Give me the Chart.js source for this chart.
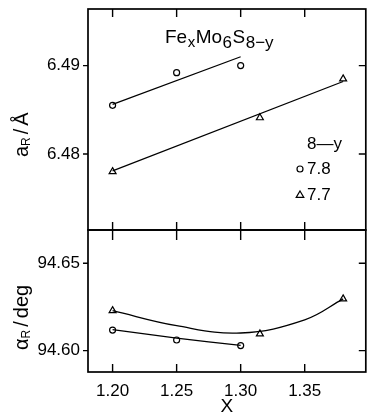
<!DOCTYPE html>
<html><head><meta charset="utf-8">
<script src="https://cdn.jsdelivr.net/npm/chart.js@4"></script>
<style>
html,body{margin:0;padding:0;background:#fff;width:371px;height:416px;overflow:hidden}
#wrap{position:relative;width:371px;height:416px}
canvas{position:absolute;left:0;top:0}
</style></head><body>
<div id="wrap"><canvas id="cTop" width="371" height="416"></canvas><canvas id="cBot" width="371" height="416"></canvas></div>
<script>
// ---- data ----
const xTicks = [1.20, 1.25, 1.30, 1.35];
const aTicks = [6.48, 6.49];
const alphaTicks = [94.60, 94.65];

const xCircle = [1.20, 1.25, 1.30];
const xTriangle = [1.20, 1.315, 1.38];

const aCircle = [6.4855, 6.4892, 6.4900];
const aTriangle = [6.4780, 6.4841, 6.4885];
const alphaCircle = [94.6118, 94.6061, 94.6029];
const alphaTriangle = [94.6229, 94.6096, 94.6296];

// fitted curves
const aFitCircleX = [1.20, 1.30];
const aFitCircle = [6.4856, 6.4910];
const aFitTriangleX = [1.20, 1.38];
const aFitTriangle = [6.4781, 6.4882];
const alphaFitCircleX = [1.20, 1.25, 1.30];
const alphaFitCircle = [94.6120, 94.6072, 94.6030];
const alphaFitTriangleX = [1.20, 1.25, 1.30, 1.35, 1.38];
const alphaFitTriangle = [94.6229, 94.6143, 94.6101, 94.6176, 94.6296];

const legendTitle = '8—y';
const legendLabels = ['7.8', '7.7'];

const FONT = '"Liberation Sans", Arial, sans-serif';
const xy = (xs, ys) => xs.map((x, i) => ({x, y: ys[i]}));

function lineDs(xs, ys, tension) {
  return {data: xy(xs, ys), showLine: true, pointRadius: 0, borderColor: '#000',
          borderWidth: 1.3, tension: tension || 0, fill: false};
}
function ptDs(xs, ys, style, r) {
  return {data: xy(xs, ys), showLine: false, pointStyle: style, pointRadius: r,
          pointBorderColor: '#000', pointBackgroundColor: '#fff', pointBorderWidth: 1.2};
}

function drawRich(ctx, x, y, parts) {
  for (const [t, size, dy, gap] of parts) {
    ctx.font = size + 'px ' + FONT;
    ctx.fillText(t, x, y + dy);
    x += ctx.measureText(t).width + (gap || 0);
  }
  return x;
}

function frameTicks(chart, yTicks, isTop) {
  const ctx = chart.ctx;
  const {left, right, top, bottom} = chart.chartArea;
  const xs = chart.scales.x, ys = chart.scales.y;
  ctx.save();
  ctx.strokeStyle = '#000';
  ctx.lineWidth = 1.7;
  ctx.strokeRect(left, top, right - left, bottom - top);
  ctx.lineWidth = 1.4;
  ctx.beginPath();
  for (const v of xTicks) {
    const px = xs.getPixelForValue(v);
    if (isTop) {
      ctx.moveTo(px, top); ctx.lineTo(px, top + 8);
      ctx.moveTo(px, bottom - 8); ctx.lineTo(px, bottom + 10);
    } else {
      ctx.moveTo(px, bottom); ctx.lineTo(px, bottom - 8);
    }
  }
  for (const v of yTicks) {
    const py = ys.getPixelForValue(v);
    ctx.moveTo(left - 5, py); ctx.lineTo(left, py);
    ctx.moveTo(right, py); ctx.lineTo(right - 7, py);
  }
  ctx.stroke();
  ctx.restore();
}

function marker(ctx, style, x, y, r) {
  ctx.beginPath();
  if (style === 'circle') {
    ctx.arc(x, y, r, 0, Math.PI * 2);
  } else {
    ctx.moveTo(x, y - r);
    ctx.lineTo(x + r * 0.95, y + r * 0.6);
    ctx.lineTo(x - r * 0.95, y + r * 0.6);
    ctx.closePath();
  }
  ctx.fillStyle = '#fff'; ctx.fill();
  ctx.lineWidth = 1.2; ctx.strokeStyle = '#000'; ctx.stroke();
}

const topPlugin = {
  id: 'topDeco',
  afterDraw(chart) {
    frameTicks(chart, aTicks, true);
    const ctx = chart.ctx;
    ctx.save();
    ctx.fillStyle = '#000';
    ctx.textBaseline = 'alphabetic';
    ctx.textAlign = 'left';
    // title
    drawRich(ctx, 165, 43, [['Fe', 19, 0, 0.5], ['x', 15, 4, 0.5], ['Mo', 19, 0, 0.5], ['6', 17, 5, 0.5], ['S', 19, 0, 0.5], ['8−y', 17, 5, 0]]);
    // legend
    ctx.textBaseline = 'middle';
    ctx.font = '17px ' + FONT;
    ctx.fillText(legendTitle, 307, 144);
    ctx.fillText(legendLabels[0], 307, 169);
    ctx.fillText(legendLabels[1], 307, 195);
    marker(ctx, 'circle', 300, 169, 3);
    marker(ctx, 'triangle', 300, 195, 4);
    // y title
    ctx.fillStyle = '#000';
    ctx.textBaseline = 'alphabetic';
    ctx.translate(28, 157);
    ctx.rotate(-Math.PI / 2);
    drawRich(ctx, 0, 0, [['a', 20, 0, 0], ['R', 12, 2, 3], ['/', 20, 0, 3], ['Å', 20, 0, 0]]);
    ctx.restore();
  }
};

const botPlugin = {
  id: 'botDeco',
  afterDraw(chart) {
    frameTicks(chart, alphaTicks, false);
    const ctx = chart.ctx;
    ctx.save();
    ctx.fillStyle = '#000';
    ctx.textBaseline = 'alphabetic';
    ctx.textAlign = 'left';
    ctx.translate(28, 350);
    ctx.rotate(-Math.PI / 2);
    drawRich(ctx, 0, 0, [['α', 20, 0, 0], ['R', 12, 2, 3], ['/', 20, 0, 3], ['deg', 20, 0, 0]]);
    ctx.restore();
  }
};

const xMin = 1.1808, xMax = 1.3977;

function yScale(min, max, ticks) {
  return {
    type: 'linear', position: 'left', min, max,
    afterBuildTicks(s) { s.ticks = ticks.map(v => ({value: v})); },
    afterFit(s) { s.width = 88; s.paddingTop = 0; s.paddingBottom = 0; },
    grid: {display: false, drawTicks: false},
    border: {display: false},
    ticks: {color: '#000', padding: 8, font: {family: FONT, size: 17}, callback: v => v.toFixed(2)}
  };
}

const common = {
  responsive: false, animation: false, devicePixelRatio: 1,
  plugins: {legend: {display: false}, tooltip: {enabled: false}, title: {display: false}}
};

new Chart(document.getElementById('cTop'), {
  type: 'scatter',
  data: {datasets: [
    lineDs(aFitCircleX, aFitCircle),
    lineDs(aFitTriangleX, aFitTriangle),
    ptDs(xCircle, aCircle, 'circle', 3),
    ptDs(xTriangle, aTriangle, 'triangle', 4)
  ]},
  options: Object.assign({}, common, {
    layout: {padding: {top: 9, bottom: 186, left: 0, right: 1}},
    scales: {
      x: {type: 'linear', display: false, min: xMin, max: xMax},
      y: yScale(6.4714, 6.4964, aTicks)
    }
  }),
  plugins: [topPlugin]
});

new Chart(document.getElementById('cBot'), {
  type: 'scatter',
  data: {datasets: [
    lineDs(alphaFitCircleX, alphaFitCircle, 0.3),
    lineDs(alphaFitTriangleX, alphaFitTriangle, 0.4),
    ptDs(xCircle, alphaCircle, 'circle', 3),
    ptDs(xTriangle, alphaTriangle, 'triangle', 4)
  ]},
  options: Object.assign({}, common, {
    layout: {padding: {top: 230, bottom: 0, left: 0, right: 1}},
    scales: {
      x: {
        type: 'linear', position: 'bottom', min: xMin, max: xMax,
        afterBuildTicks(s) { s.ticks = xTicks.map(v => ({value: v})); },
        afterFit(s) { s.height = 44; s.paddingLeft = 0; s.paddingRight = 0; },
        grid: {display: false, drawTicks: false},
        border: {display: false},
        ticks: {color: '#000', padding: 9.5, maxRotation: 0, autoSkip: false, font: {family: FONT, size: 17}, callback: v => v.toFixed(2)},
        title: {display: true, text: 'X', color: '#000', padding: 0, font: {family: FONT, size: 19, lineHeight: 1}}
      },
      y: yScale(94.5878, 94.6690, alphaTicks)
    }
  }),
  plugins: [botPlugin]
});
</script>
</body></html>
